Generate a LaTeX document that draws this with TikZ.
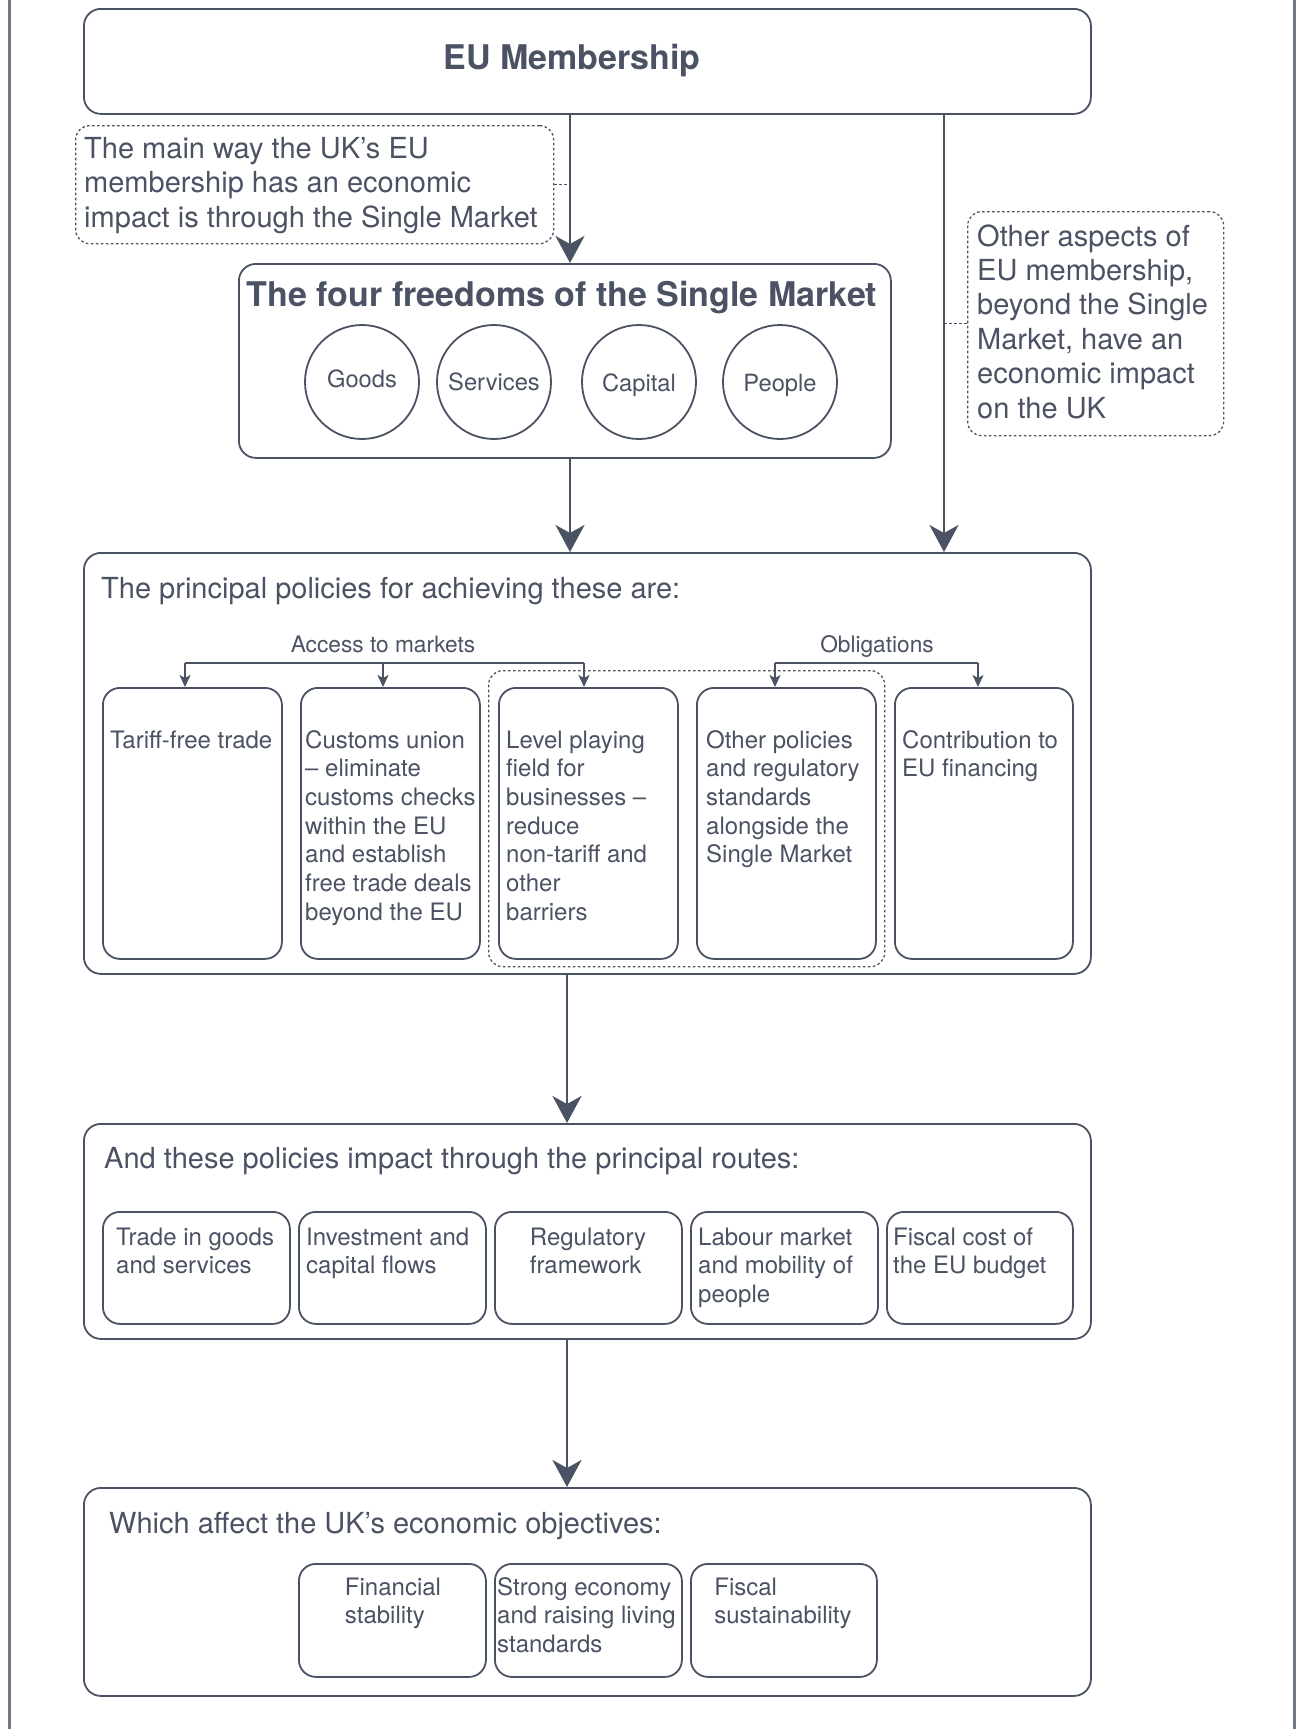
\documentclass[tikz,border=0pt]{standalone}
\usepackage{fontspec}
\setmainfont{TeX Gyre Heros}
\usetikzlibrary{arrows.meta}
\definecolor{ink}{HTML}{4A5263}
\definecolor{framec}{HTML}{717987}
\newcommand\mlines[1]{\vtop{\halign{##\hfil\cr#1\crcr}}}
\begin{document}
\begin{tikzpicture}[x=1pt,y=-1pt,
  box/.style={draw=ink, line width=1.8pt, rounded corners=17pt, inner sep=0pt, anchor=north west},
  note/.style={draw=ink, line width=1.3pt, dash pattern=on 2.6pt off 2.4pt, rounded corners=14pt, inner sep=0pt, anchor=north west},
  freedom/.style={draw=ink, line width=1.8pt, circle, minimum size=114pt, inner sep=0pt},
  flbl/.style={text=ink, inner sep=0pt, font=\fontsize{23.7}{28}\selectfont},
  flow/.style={draw=ink, line width=2.8pt, -{Stealth[length=27pt,width=29pt,inset=8pt]}},
  brk/.style={draw=ink, line width=1.6pt},
  brkarrow/.style={draw=ink, line width=1.6pt, -{Stealth[length=12pt,width=11pt,inset=3pt]}},
  dotline/.style={draw=ink, line width=1.3pt, dash pattern=on 2.6pt off 2.4pt},
  txt/.style={text=ink, inner sep=0pt, font=\fontsize{24}{28.7}\selectfont},
  lbl/.style={text=ink, inner sep=0pt, font=\fontsize{22.7}{27}\selectfont},
  ttl/.style={text=ink, inner sep=0pt, font=\fontsize{29}{34.4}\selectfont},
  bold/.style={text=ink, inner sep=0pt, font=\fontsize{34}{40}\selectfont\bfseries}
]
\useasboundingbox (0,0) rectangle (1300,1729);
% outer frame sides
\draw[framec, line width=3pt] (9,0) -- (9,1729);
\draw[framec, line width=3pt] (1294,0) -- (1294,1729);

% column coordinates
\coordinate (a1) at (570,0);
\coordinate (a2) at (567,0);
\coordinate (r1) at (944,0);

% EU Membership
\node[box, minimum width=1007pt, minimum height=105pt] (eu) at (83,8) {};
\node[bold, anchor=base] (eut) at (572,69) {EU Membership};

% note 1
\node[note, minimum width=478pt, minimum height=118pt] (n1) at (75,125) {};
\node[ttl, anchor=base west] (n1t) at (84,158.5) {\mlines{The main way the UK’s EU\cr membership has an economic\cr impact is through the Single Market}};

% four freedoms
\node[box, minimum width=652pt, minimum height=194pt] (ff) at (238,263) {};
\node[bold, anchor=base] (fft) at (562,306) {The four freedoms of the Single Market};
\node[freedom] (c1) at (362,382) {};
\node[freedom] (c2) at (494,382) {};
\node[freedom] (c3) at (639,382) {};
\node[freedom] (c4) at (780,382) {};
\node[flbl, anchor=base] (c1t) at (362,387) {Goods};
\node[flbl, anchor=base] (c2t) at (494,390) {Services};
\node[flbl, anchor=base] (c3t) at (639,391) {Capital};
\node[flbl, anchor=base] (c4t) at (780,391) {People};

% note 2
\node[note, minimum width=256pt, minimum height=224pt] (n2) at (967,211) {};
\node[ttl, anchor=base west] (n2t) at (977,246) {\mlines{Other aspects of\cr EU membership,\cr beyond the Single\cr Market, have an\cr economic impact\cr on the UK}};

% policies
\node[box, minimum width=1007pt, minimum height=421pt] (pol) at (83,552) {};
\node[ttl, anchor=base west] (polt) at (101,598) {The principal policies for achieving these are:};
\node[note, minimum width=396pt, minimum height=296pt] (grp) at (488,670) {};
\node[box, minimum width=179pt, minimum height=271pt] (p1) at (102,687) {};
\node[box, minimum width=179pt, minimum height=271pt] (p2) at (300,687) {};
\node[box, minimum width=179pt, minimum height=271pt] (p3) at (498,687) {};
\node[box, minimum width=179pt, minimum height=271pt] (p4) at (696,687) {};
\node[box, minimum width=178pt, minimum height=271pt] (p5) at (894,687) {};
\node[txt, anchor=base west] (p1t) at (110,748) {Tariff-free trade};
\node[txt, anchor=base west] (p2t) at (305,748) {\mlines{Customs union\cr – eliminate\cr customs checks\cr within the EU\cr and establish\cr free trade deals\cr beyond the EU}};
\node[txt, anchor=base west] (p3t) at (506,748) {\mlines{Level playing\cr field for\cr businesses –\cr reduce\cr non-tariff and\cr other\cr barriers}};
\node[txt, anchor=base west] (p4t) at (706,748) {\mlines{Other policies\cr and regulatory\cr standards\cr alongside the\cr Single Market}};
\node[txt, anchor=base west] (p5t) at (902,748) {\mlines{Contribution to\cr EU financing}};

% brackets
\node[lbl, anchor=base] (acc) at (383,652) {Access to markets};
\node[lbl, anchor=base] (obl) at (877,652) {Obligations};
\coordinate (accL) at (185,663);
\coordinate (accM) at (383,663);
\coordinate (accR) at (584,663);
\coordinate (oblL) at (775,663);
\coordinate (oblR) at (978,663);
\draw[brk] (accL) -- (accR);
\draw[brk] (oblL) -- (oblR);
\draw[brkarrow] (accL) -- (p1.north -| accL);
\draw[brkarrow] (accM) -- (p2.north -| accM);
\draw[brkarrow] (accR) -- (p3.north -| accR);
\draw[brkarrow] (oblL) -- (p4.north -| oblL);
\draw[brkarrow] (oblR) -- (p5.north -| oblR);

% routes
\node[box, minimum width=1007pt, minimum height=215pt] (rt) at (83,1123) {};
\node[ttl, anchor=base west] (rtt) at (104,1168) {And these policies impact through the principal routes:};
\node[box, minimum width=187pt, minimum height=112pt] (q1) at (102,1211) {};
\node[box, minimum width=187pt, minimum height=112pt] (q2) at (298,1211) {};
\node[box, minimum width=187pt, minimum height=112pt] (q3) at (494,1211) {};
\node[box, minimum width=187pt, minimum height=112pt] (q4) at (690,1211) {};
\node[box, minimum width=186pt, minimum height=112pt] (q5) at (886,1211) {};
\node[txt, anchor=base west] (q1t) at (116,1245) {\mlines{Trade in goods\cr and services}};
\node[txt, anchor=base west] (q2t) at (306,1245) {\mlines{Investment and\cr capital flows}};
\node[txt, anchor=base] (q3t) at (588,1245) {\mlines{Regulatory\cr framework}};
\node[txt, anchor=base west] (q4t) at (698,1245) {\mlines{Labour market\cr and mobility of\cr people}};
\node[txt, anchor=base west] (q5t) at (893,1245) {\mlines{Fiscal cost of\cr the EU budget}};

% objectives
\node[box, minimum width=1007pt, minimum height=208pt] (obj) at (83,1487) {};
\node[ttl, anchor=base west] (objt) at (109,1533) {Which affect the UK’s economic objectives:};
\node[box, minimum width=187pt, minimum height=113pt] (o1) at (298,1563) {};
\node[box, minimum width=187pt, minimum height=113pt] (o2) at (494,1563) {};
\node[box, minimum width=186pt, minimum height=113pt] (o3) at (690,1563) {};
\node[txt, anchor=base] (o1t) at (393,1595) {\mlines{Financial\cr stability}};
\node[txt, anchor=base west] (o2t) at (497,1595) {\mlines{Strong economy\cr and raising living\cr standards}};
\node[txt, anchor=base] (o3t) at (783,1595) {\mlines{Fiscal\cr sustainability}};

% flow arrows
\draw[flow] (eu.south -| a1) -- (ff.north -| a1);
\draw[flow] (ff.south -| a1) -- (pol.north -| a1);
\draw[flow] (eu.south -| r1) -- (pol.north -| r1);
\draw[flow] (pol.south -| a2) -- (rt.north -| a2);
\draw[flow] (rt.south -| a2) -- (obj.north -| a2);

% note connectors
\draw[dotline] (n1.east) -- (n1.east -| a1);
\draw[dotline] (n2.west) -- (n2.west -| r1);
\end{tikzpicture}
\end{document}
